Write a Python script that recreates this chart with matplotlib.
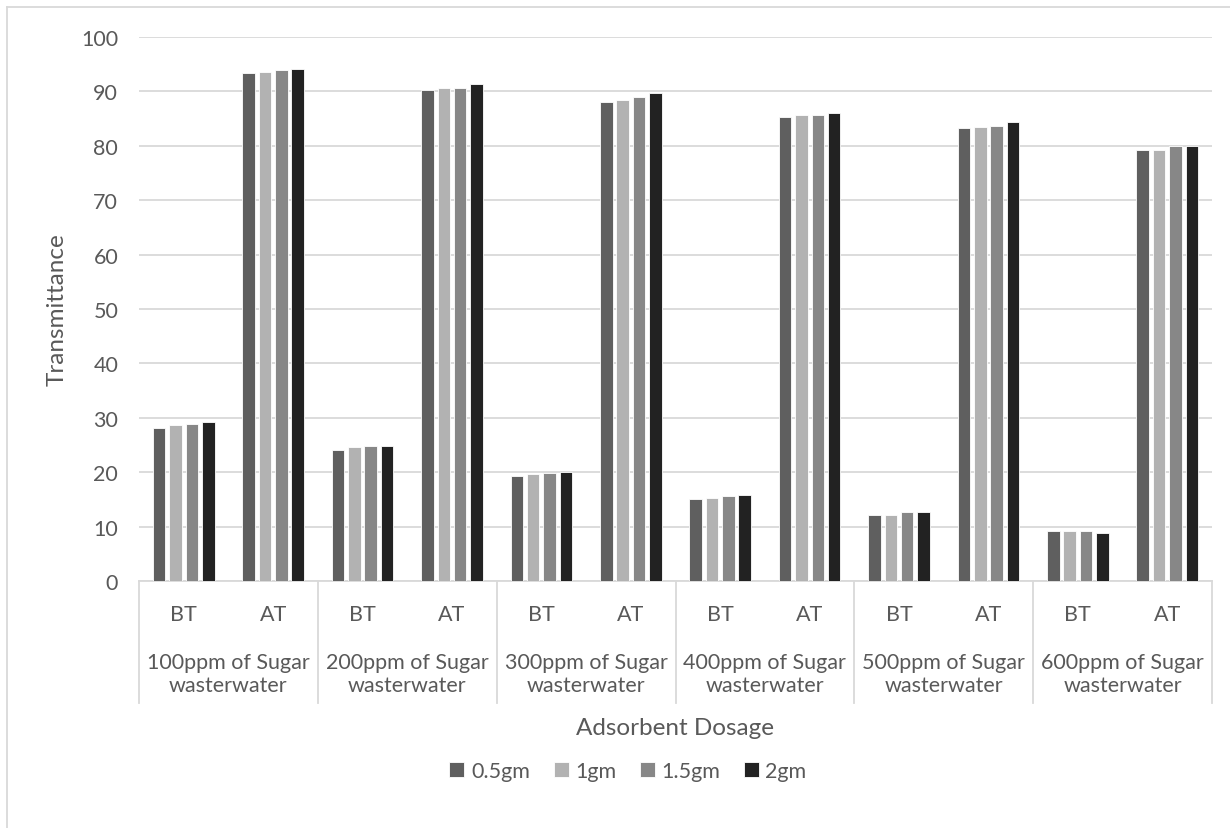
import numpy as np
import matplotlib.pyplot as plt
from matplotlib.lines import Line2D

plt.rcParams['font.family'] = ['Lato', 'DejaVu Sans']

# data
groups = ["100ppm of Sugar\nwasterwater", "200ppm of Sugar\nwasterwater",
          "300ppm of Sugar\nwasterwater", "400ppm of Sugar\nwasterwater",
          "500ppm of Sugar\nwasterwater", "600ppm of Sugar\nwasterwater"]
stages = ["BT", "AT"]
dosages = ["0.5gm", "1gm", "1.5gm", "2gm"]
# each list: BT/AT for 100..600 ppm (12 values)
t_05 = [28.1, 93.4, 24.1, 90.3, 19.3, 88.0, 15.1, 85.3, 12.1, 83.2, 9.1, 79.3]
t_1 = [28.7, 93.6, 24.6, 90.7, 19.6, 88.5, 15.3, 85.6, 12.1, 83.5, 9.1, 79.3]
t_15 = [28.9, 93.9, 24.9, 90.7, 19.9, 89.0, 15.6, 85.6, 12.7, 83.7, 9.2, 79.9]
t_2 = [29.2, 94.1, 24.9, 91.3, 20.0, 89.7, 15.9, 86.0, 12.7, 84.3, 8.8, 79.9]
series = [t_05, t_1, t_15, t_2]
colors = ["#5f5f5f", "#b2b2b2", "#878787", "#222222"]

W, H = 1230, 829
fig = plt.figure(figsize=(W / 100, H / 100), dpi=100)
ax = fig.add_axes([139 / W, (H - 582) / H, (1212 - 139) / W, (582 - 38) / H])

grid_c = "#d9d9d9"
text_c = "#595959"
fs = 15.5

n = len(groups) * len(stages)
x = np.arange(n)
pitch = 0.183
bw = 0.14
for k, (vals, c) in enumerate(zip(series, colors)):
    ax.bar(x + (k - 1.5) * pitch, vals, width=bw, color=c, edgecolor="white",
           linewidth=0.6, label=dosages[k], zorder=3)

ax.set_xlim(-0.5, n - 0.5)
ax.set_ylim(0, 100)
ax.set_yticks(np.arange(0, 101, 10))
ax.yaxis.grid(True, color=grid_c, linewidth=1.3, zorder=0)
ax.tick_params(axis='y', length=0, pad=15, labelsize=fs, labelcolor=text_c)
ax.tick_params(axis='x', length=0, labelbottom=False)
for s in ["top", "right", "left"]:
    ax.spines[s].set_visible(False)
ax.spines["bottom"].set_color(grid_c)
ax.spines["bottom"].set_linewidth(1.3)

# two-level category axis
tr = ax.get_xaxis_transform()
for i in range(n):
    ax.text(i, -0.061, stages[i % 2], transform=tr, ha="center", va="center",
            fontsize=fs, color=text_c)
for g, name in enumerate(groups):
    ax.text(2 * g + 0.5, -0.17, name, transform=tr, ha="center", va="center",
            fontsize=fs, color=text_c, linespacing=1.15)
for b in np.arange(-0.5, n, 2):
    ax.plot([b, b], [0, -0.224], transform=tr, color=grid_c, lw=1.3,
            clip_on=False)

fig.text(57 / W, 1 - 310 / H, "Transmittance", rotation=90, ha="center",
         va="center", fontsize=17.5, color=text_c)
fig.text(675 / W, 1 - 729 / H, "Adsorbent Dosage", ha="center", va="center",
         fontsize=17.5, color=text_c)

fig.legend(loc="center", bbox_to_anchor=(628 / W, 1 - 772 / H), ncol=4,
           frameon=False, fontsize=fs, labelcolor=text_c, handlelength=0.7,
           handleheight=0.7, handletextpad=0.3, columnspacing=1.1)

# chart area border (only top and left are visible in the crop)
fig.add_artist(Line2D([7 / W, 1], [1 - 8 / H, 1 - 8 / H], color=grid_c, lw=1.3))
fig.add_artist(Line2D([7 / W, 7 / W], [0, 1 - 8 / H], color=grid_c, lw=1.3))

fig.savefig("out.png", dpi=100)
